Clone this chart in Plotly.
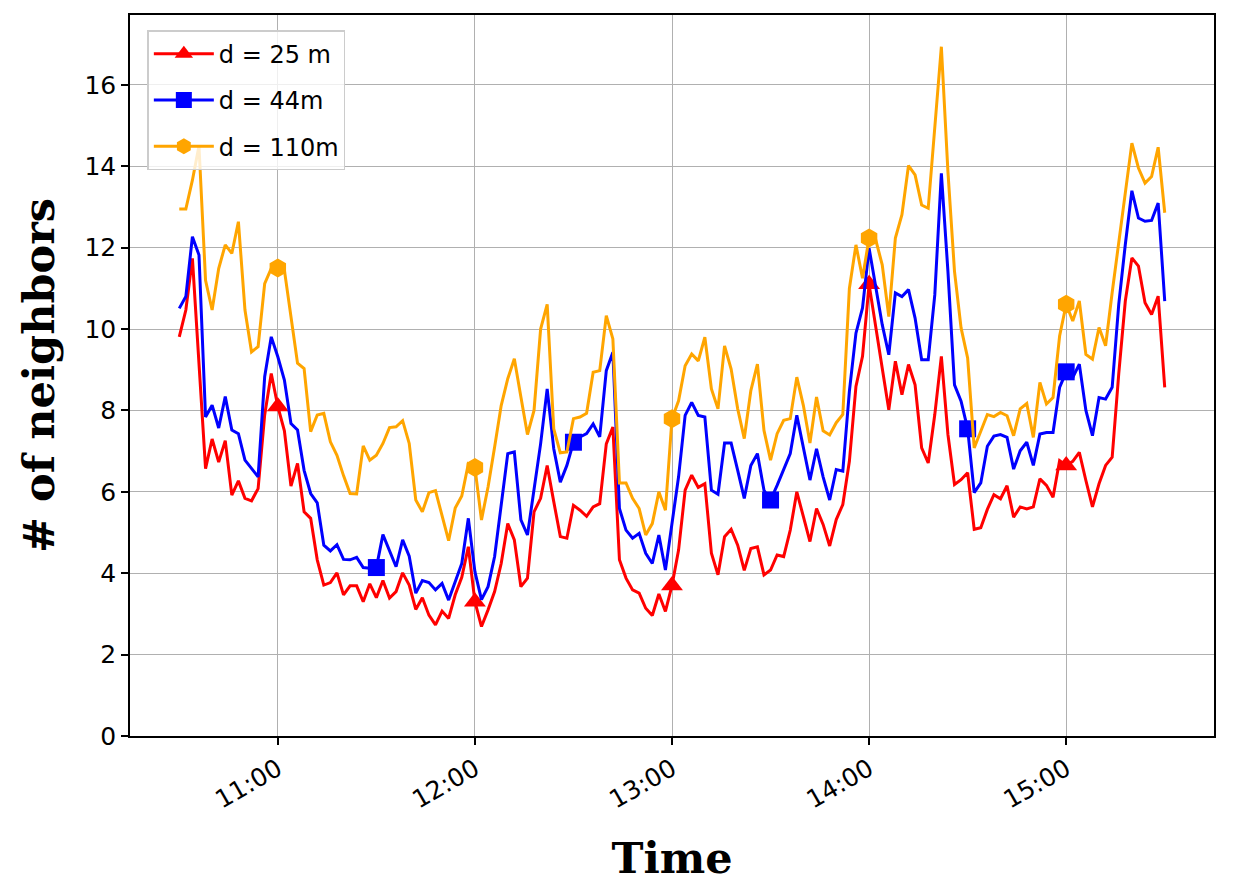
import pandas as pd
import plotly.graph_objects as go

# 2-minute samples from 10:30 to 15:30
times = pd.date_range("2019-05-20 10:30", periods=151, freq="2min")

nbr_25m = [
    9.81, 10.47, 11.74, 9.2, 6.57, 7.3, 6.73, 7.26, 5.92, 6.27,
    5.84, 5.78, 6.08, 7.89, 8.91, 8.1, 7.5, 6.14, 6.7, 5.51,
    5.35, 4.33, 3.71, 3.77, 4.01, 3.47, 3.69, 3.69, 3.3, 3.74,
    3.4, 3.82, 3.39, 3.55, 4.01, 3.71, 3.11, 3.4, 2.97, 2.73,
    3.07, 2.89, 3.47, 3.9, 4.65, 3.3, 2.69, 3.1, 3.55, 4.24,
    5.22, 4.82, 3.67, 3.88, 5.51, 5.84, 6.65, 5.76, 4.9, 4.86,
    5.67, 5.55, 5.4, 5.63, 5.71, 7.18, 7.59, 4.33, 3.88, 3.59,
    3.51, 3.14, 2.96, 3.49, 3.06, 3.7, 4.57, 6.04, 6.41, 6.11,
    6.2, 4.49, 3.96, 4.9, 5.08, 4.69, 4.07, 4.61, 4.65, 3.96,
    4.08, 4.45, 4.41, 5.06, 6.0, 5.39, 4.78, 5.59, 5.2, 4.67,
    5.32, 5.69, 6.75, 8.59, 9.33, 11.1, 10.03, 9.04, 8.02, 9.21,
    8.39, 9.13, 8.63, 7.08, 6.71, 7.9, 9.33, 7.41, 6.18, 6.3,
    6.47, 5.08, 5.12, 5.57, 5.93, 5.83, 6.15, 5.38, 5.63, 5.58,
    5.63, 6.32, 6.16, 5.87, 6.77, 6.65, 6.75, 6.97, 6.28, 5.63,
    6.2, 6.65, 6.85, 8.9, 10.69, 11.75, 11.55, 10.65, 10.36, 10.81,
    8.57,
]

nbr_44m = [
    10.51, 10.8, 12.27, 11.82, 7.84, 8.13, 7.57, 8.34, 7.52, 7.43,
    6.78, 6.57, 6.37, 8.83, 9.81, 9.32, 8.75, 7.68, 7.52, 6.53,
    5.96, 5.73, 4.69, 4.55, 4.7, 4.34, 4.33, 4.39, 4.14, 4.12,
    4.14, 4.95, 4.57, 4.16, 4.82, 4.42, 3.51, 3.82, 3.77, 3.59,
    3.75, 3.34, 3.79, 4.24, 5.35, 4.04, 3.35, 3.67, 4.41, 5.63,
    6.94, 6.98, 5.31, 4.94, 6.08, 7.18, 8.53, 7.06, 6.24, 6.65,
    7.22, 7.35, 7.43, 7.67, 7.35, 8.98, 9.43, 5.59, 5.06, 4.86,
    4.98, 4.49, 4.24, 4.94, 4.08, 5.22, 6.37, 7.88, 8.2, 7.88,
    7.84, 6.04, 5.94, 7.2, 7.2, 6.53, 5.84, 6.65, 6.94, 6.04,
    5.8, 6.16, 6.53, 6.94, 7.88, 7.1, 6.29, 7.06, 6.37, 5.8,
    6.55, 6.51, 8.47, 9.9, 10.52, 11.99, 11.09, 10.11, 9.37, 10.89,
    10.8, 10.97, 10.27, 9.25, 9.25, 10.84, 13.83, 11.42, 8.63, 8.23,
    7.55, 5.98, 6.22, 7.12, 7.37, 7.41, 7.34, 6.56, 7.01, 7.22,
    6.65, 7.42, 7.46, 7.46, 8.57, 8.95, 8.81, 9.14, 8.0, 7.38,
    8.32, 8.28, 8.57, 10.61, 12.08, 13.4, 12.73, 12.65, 12.67, 13.1,
    10.69,
]

nbr_110m = [
    12.95, 12.95, 13.66, 14.5, 11.2, 10.47, 11.49, 12.07, 11.86, 12.64,
    10.47, 9.44, 9.57, 11.12, 11.49, 11.5, 11.45, 10.3, 9.16, 9.03,
    7.48, 7.89, 7.93, 7.23, 6.9, 6.4, 5.96, 5.95, 7.13, 6.78,
    6.9, 7.19, 7.58, 7.6, 7.75, 7.19, 5.8, 5.51, 5.98, 6.03,
    5.39, 4.8, 5.6, 5.9, 6.69, 6.6, 5.31, 6.12, 7.1, 8.12,
    8.78, 9.27, 8.33, 7.41, 8.0, 10.0, 10.61, 7.55, 6.96, 6.98,
    7.8, 7.84, 7.93, 8.94, 8.98, 10.33, 9.76, 6.22, 6.22, 5.84,
    5.59, 4.94, 5.22, 6.0, 5.55, 7.8, 8.24, 9.1, 9.39, 9.22,
    9.8, 8.53, 8.04, 9.59, 9.02, 8.04, 7.31, 8.49, 9.14, 7.51,
    6.78, 7.43, 7.76, 7.8, 8.82, 8.12, 7.2, 8.33, 7.5, 7.4,
    7.7, 7.9, 11.0, 12.07, 11.25, 12.24, 12.2, 11.58, 10.31, 12.24,
    12.81, 14.02, 13.79, 13.05, 12.97, 14.85, 16.94, 13.87, 11.42, 10.03,
    9.29, 7.08, 7.49, 7.9, 7.85, 7.95, 7.87, 7.38, 8.04, 8.17,
    7.34, 8.69, 8.16, 8.32, 9.83, 10.61, 10.2, 10.69, 9.38, 9.26,
    10.04, 9.59, 10.9, 12.16, 13.35, 14.57, 13.96, 13.59, 13.75, 14.47,
    12.86,
]

# which samples carry a marker
marks_25m = [15, 45, 75, 105, 135]
marks_44m = [30, 60, 90, 120, 135]
marks_110m = [15, 45, 75, 105, 135]

series = [
    ("d = 25 m", nbr_25m, marks_25m, "#ff0000", "triangle-up", 19),
    ("d = 44m", nbr_44m, marks_44m, "#0000ff", "square", 17),
    ("d = 110m", nbr_110m, marks_110m, "#ffa500", "hexagon", 19),
]

fig = go.Figure()
for name, vals, marks, color, symbol, msize in series:
    fig.add_trace(go.Scatter(x=times, y=vals, mode="lines", line=dict(color=color, width=3),
                             legendgroup=name, showlegend=False))
    fig.add_trace(go.Scatter(x=times[marks], y=[vals[i] for i in marks], mode="markers",
                             marker=dict(color=color, symbol=symbol, size=msize),
                             legendgroup=name, showlegend=False))
    # legend entry only (line + marker)
    fig.add_trace(go.Scatter(x=[None], y=[None], mode="lines+markers", name=name,
                             line=dict(color=color, width=3),
                             marker=dict(color=color, symbol=symbol, size=msize),
                             legendgroup=name))

axis_style = dict(showline=True, mirror=True, linecolor="black", linewidth=1.5,
                  ticks="outside", ticklen=7, tickwidth=1.5, tickcolor="black",
                  showgrid=True, gridcolor="#b0b0b0", gridwidth=1, zeroline=False,
                  tickfont=dict(family="DejaVu Sans", size=25, color="black"))

fig.update_xaxes(**axis_style, type="date",
                 range=[pd.Timestamp("2019-05-20 10:15"), pd.Timestamp("2019-05-20 15:45")],
                 dtick=3600000, tick0="2019-05-20 11:00", tickformat="%H:%M", tickangle=-30,
                 title=dict(text="<b>Time</b>", standoff=30,
                            font=dict(family="DejaVu Serif", size=43, color="black")))
fig.update_yaxes(**axis_style, range=[0, 17.72], dtick=2,
                 title=dict(text="<b># of neighbors</b>", standoff=16,
                            font=dict(family="DejaVu Serif", size=43, color="black")))

# the page puts the figure 8px in from the top-left corner
fig.update_layout(
    width=1238, height=886,
    margin=dict(l=122, r=32, t=7, b=158, autoexpand=False),
    paper_bgcolor="white", plot_bgcolor="white",
    legend=dict(x=0.016, y=0.979, xanchor="left", yanchor="top",
                bgcolor="rgba(255,255,255,0.8)", bordercolor="#cccccc", borderwidth=1.5,
                itemwidth=60, tracegroupgap=12,
                font=dict(family="DejaVu Sans", size=24, color="black")),
)

fig.write_html("out.html")
